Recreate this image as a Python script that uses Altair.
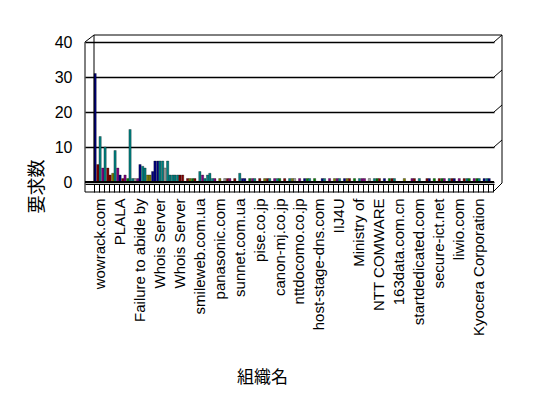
import json
import pandas as pd
import altair as alt

# organisation labels (shown on every 4th category)
labels = ["wowrack.com", "PLALA", "Failure to abide by", "Whois Server", "Whois Server",
          "smileweb.com.ua", "panasonic.com", "sunnet.com.ua", "pise.co.jp", "canon-mj.co.jp",
          "nttdocomo.co.jp", "host-stage-dns.com", "IIJ4U", "Ministry of", "NTT COMWARE",
          "163data.com.cn", "startdedicated.com", "secure-ict.net", "liwio.com", "Kyocera Corporation"]
n_cat = 80
y_ticks = [0, 10, 20, 30, 40]

a_val = [31, 13, 10, 2, 9, 2, 2, 15, 1, 5, 4, 2, 6, 6, 4, 2, 2, 2, 0, 1, 1, 3, 1, 2.5, 1,
         1, 1, 1, 1, 2.5, 1, 1, 1, 1, 1,
         1, 1, 1, 1, 1, 1, 1, 1, 1, 1,
         0, 1, 1, 1, 1, 1, 1, 1, 1, 1,
         1, 1, 1, 1, 1, 1, 0, 1, 0, 1,
         1, 0, 1, 1, 1, 1, 1, 1, 1, 1,
         1, 1, 1, 1, 1]
a_ser = list("NTTMTNPTYNTONTYTTMMOMTTTP"
             "OYPMTNGTMO" "TPGMTYPNTG" "MTPOTNMGTP" "YTMNGTPONM" "TPNGMPTNPM" "GPTN") + ["N"]
b_val = [5, 4, 4, 2.5, 4, 1, 1, 1, 1, 4.5, 2, 3, 6, 6, 6, 2, 2, 2, 1, 1, 0, 2, 2, 1, 0,
         0, 1, 0, 0, 1, 0, 1, 0, 0, 1,
         0, 1, 0, 0, 1, 0, 0, 1, 0, 0,
         1, 0, 0, 1, 0, 1, 0, 0, 1, 0,
         0, 1, 0, 0, 1, 0, 0, 0, 1, 0,
         0, 1, 0, 0, 1, 0, 1, 0, 0, 1,
         0, 1, 0, 1, 0]
b_ser = list("MPMOPMGTPTONNTTTTMMGMPTTT"
             "PMGTNOPYTM" "GTPNOMTGPY" "NTMPGOTNPM" "TGPYMNTOPG" "TMNPGTMONT" "PGMTN")

ser_keys = ["N", "T", "M", "P", "O", "G", "Y", "B"]
ser_colors = ["#000080", "#008080", "#800000", "#800080", "#808000", "#008000", "#a0a0a0", "#0000ff"]

rows = []
for i in range(n_cat):
    rows.append({"cat": i, "slot": "a", "val": a_val[i], "ser": a_ser[i]})
    rows.append({"cat": i, "slot": "b", "val": b_val[i], "ser": b_ser[i]})
df = pd.DataFrame(rows)
df = df[df["val"] > 0]

W, H = 409, 140
label_expr = "datum.value % 4 == 0 ? " + json.dumps(labels) + "[datum.value / 4] : ''"

y_axis = alt.Axis(title="要求数", values=y_ticks, grid=True, gridColor="#000000",
                  gridWidth=1.5, domain=False, ticks=False, labelPadding=13, labelOverlap=False,
                  labelFont="Liberation Sans", labelFontSize=16, labelColor="#000000",
                  titleFont="Noto Sans CJK JP", titleFontSize=18, titleFontWeight="normal",
                  titleColor="#000000", titleX=-48, titleY=144, titleAngle=270,
                  titleAlign="center", titleBaseline="middle", titleAnchor="start")
y_scale = alt.Scale(domain=[0, 40], nice=False)

bars = alt.Chart(df).mark_bar(stroke="#000000", strokeWidth=0.3).encode(
    x=alt.X("cat:O", scale=alt.Scale(domain=list(range(n_cat)), paddingInner=0, paddingOuter=1, align=0.9),
            axis=alt.Axis(title="組織名", labelExpr=label_expr, labelAngle=-90, labelOverlap=False,
                          labelFont="Liberation Sans", labelFontSize=15, labelColor="#000000",
                          labelPadding=6, labelOffset=3, labelBound=False, labelFlush=False,
                          tickBand="extent", tickSize=8, tickColor="#000000", tickWidth=1,
                          domainColor="#000000", domainWidth=1, offset=2,
                          titleFont="Noto Sans CJK JP", titleFontSize=17, titleFontWeight="normal",
                          titleColor="#000000", titleX=177, titleY=193, titleAlign="center",
                          titleBaseline="middle", titleAnchor="start")),
    xOffset=alt.XOffset("slot:N", scale=alt.Scale(paddingInner=0.15, paddingOuter=0)),
    y=alt.Y("val:Q", scale=y_scale, axis=y_axis),
    color=alt.Color("ser:N", scale=alt.Scale(domain=ser_keys, range=ser_colors), legend=None),
)

one = pd.DataFrame({"k": [0]})
base = alt.Chart(one)
zero_line = base.mark_rule(color="#000000", strokeWidth=2).encode(y=alt.Y(datum=0, scale=y_scale, axis=y_axis))
top_back = base.mark_rule(color="#000000").encode(x=alt.value(9), x2=alt.value(417), y=alt.value(-7))
left_diag = base.mark_rule(color="#000000").encode(x=alt.value(0), x2=alt.value(9), y=alt.value(0), y2=alt.value(-7))
back_left = base.mark_rule(color="#000000").encode(x=alt.value(9), y=alt.value(-7), y2=alt.value(H))
front_left = base.mark_rule(color="#000000").encode(x=alt.value(0), y=alt.value(0), y2=alt.value(H + 10))
right_vert = base.mark_rule(color="#000000").encode(x=alt.value(417), y=alt.value(-7), y2=alt.value(H + 1))
floor_bottom = base.mark_rule(color="#000000").encode(x=alt.value(0), x2=alt.value(W - 1), y=alt.value(H + 10))
floor_diag = base.mark_rule(color="#000000").encode(x=alt.value(W - 1), x2=alt.value(417), y=alt.value(H + 10), y2=alt.value(H + 1))

grid_vals = [10, 20, 30, 40]
side_diag = alt.Chart(pd.DataFrame({"g": grid_vals})).mark_rule(color="#000000", y2Offset=-7).encode(
    y=alt.Y("g:Q", scale=y_scale, axis=y_axis), y2="g", x=alt.value(W), x2=alt.value(417))

chart = alt.layer(bars, zero_line, top_back, left_diag, back_left, front_left, right_vert,
                  floor_bottom, floor_diag, side_diag).properties(
    width=W, height=H,
    autosize=alt.AutoSizeParams(type="none"),
    padding={"left": 77, "top": 34, "right": 46, "bottom": 208},
    background="#ffffff",
).configure_view(strokeWidth=0)

chart.save("out.html", embed_options={"renderer": "svg", "actions": False})
